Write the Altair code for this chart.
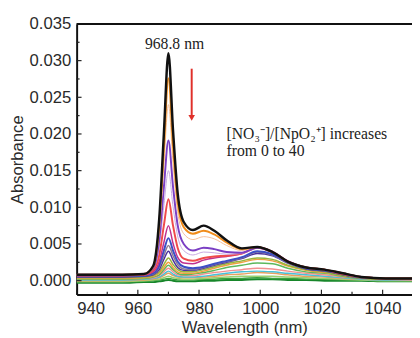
import altair as alt
import pandas as pd

# ---------------- data ----------------
wavelength = [940, 955, 962, 965, 967, 968.5, 970, 971.5, 973, 975, 978, 981.5, 985,
              989, 994, 999, 1004, 1009, 1015, 1021, 1027, 1033, 1041, 1050]

s_darkgreen = [-.0003, -.0003, -.0002, -.0002, -.0001, .0000, .0001, .0000, -.0001, -.0001, -.0001, .0000, .0000,
               .0001, .0001, .0002, .0002, .0001, .0001, .0000, .0000, .0000, -.0001, -.0001]
s_green2 = [-.0002, -.0002, -.0001, .0000, .0001, .0002, .0003, .0002, .0001, .0001, .0001, .0002, .0002,
            .0003, .0003, .0004, .0003, .0003, .0002, .0002, .0001, .0001, .0000, .0000]
s_lightgreen = [-.0001, -.0001, .0000, .0001, .0002, .0004, .0006, .0004, .0003, .0002, .0002, .0003, .0004,
                .0005, .0006, .0006, .0006, .0005, .0004, .0003, .0002, .0001, .0000, .0000]
s_orange3 = [.0000, .0000, .0001, .0002, .0004, .0007, .0010, .0007, .0005, .0004, .0004, .0005, .0006,
             .0008, .0009, .0011, .0010, .0008, .0006, .0005, .0003, .0002, .0001, .0001]
s_cyan = [.0001, .0001, .0002, .0003, .0005, .0009, .0013, .0009, .0006, .0005, .0005, .0006, .0008,
          .0010, .0012, .0013, .0012, .0010, .0008, .0006, .0004, .0002, .0001, .0001]
s_pink = [.0002, .0002, .0003, .0004, .0007, .0012, .0017, .0012, .0008, .0007, .0007, .0009, .0011,
          .0013, .0015, .0017, .0016, .0013, .0010, .0008, .0005, .0003, .0002, .0001]
s_green = [.0002, .0002, .0003, .0005, .0008, .0015, .0021, .0015, .0010, .0008, .0009, .0011, .0014,
           .0018, .0021, .0024, .0023, .0017, .0012, .0010, .0006, .0003, .0002, .0002]
s_orange2 = [.0003, .0003, .0004, .0006, .0010, .0018, .0025, .0018, .0012, .0010, .0010, .0013, .0017,
             .0021, .0025, .0029, .0027, .0020, .0014, .0011, .0007, .0004, .0002, .0002]
s_olive = [.0004, .0004, .0005, .0007, .0012, .0022, .0031, .0022, .0015, .0012, .0012, .0015, .0019,
           .0023, .0027, .0031, .0029, .0021, .0015, .0012, .0007, .0004, .0002, .0002]
s_indigo = [.0005, .0005, .0006, .0008, .0015, .0029, .0040, .0028, .0018, .0014, .0014, .0017, .0021,
            .0025, .0030, .0037, .0034, .0024, .0016, .0013, .0008, .0004, .0003, .0002]
s_gray = [.0006, .0006, .0007, .0009, .0018, .0034, .0048, .0034, .0022, .0016, .0015, .0018, .0022,
          .0026, .0031, .0039, .0035, .0024, .0017, .0014, .0009, .0004, .0003, .0003]
s_blue = [.0006, .0006, .0007, .0010, .0021, .0041, .0058, .0041, .0026, .0019, .0017, .0019, .0023,
          .0027, .0032, .0040, .0036, .0025, .0017, .0014, .0009, .0005, .0003, .0003]
s_magenta = [.0007, .0007, .0008, .0012, .0026, .0052, .0075, .0051, .0032, .0024, .0023, .0028, .0031,
             .0033, .0037, .0046, .0040, .0027, .0018, .0015, .0009, .0005, .0003, .0003]
s_red = [.0007, .0007, .0008, .0014, .0035, .0075, .0111, .0075, .0045, .0030, .0027, .0031, .0033,
         .0034, .0037, .0045, .0039, .0026, .0018, .0015, .0009, .0005, .0003, .0003]
s_lilac = [.0008, .0008, .0009, .0016, .0046, .0102, .0150, .0101, .0061, .0041, .0035, .0039, .0038,
           .0036, .0037, .0045, .0039, .0026, .0018, .0015, .0010, .0005, .0003, .0003]
s_purple = [.0008, .0008, .0009, .0017, .0056, .0127, .0191, .0128, .0076, .0050, .0041, .0045, .0043,
            .0039, .0038, .0045, .0039, .0026, .0018, .0015, .0010, .0005, .0003, .0003]
s_peach = [.0008, .0008, .0009, .0018, .0068, .0157, .0240, .0160, .0094, .0064, .0056, .0060, .0057,
           .0048, .0041, .0046, .0039, .0026, .0018, .0015, .0010, .0005, .0003, .0003]
s_orange = [.0008, .0008, .0009, .0019, .0077, .0180, .0276, .0184, .0108, .0073, .0064, .0068, .0063,
            .0052, .0043, .0046, .0039, .0026, .0018, .0015, .0010, .0005, .0003, .0003]
s_black = [.0008, .0008, .0009, .0020, .0085, .0200, .0310, .0205, .0120, .0080, .0069, .0075, .0068,
           .0055, .0044, .0046, .0039, .0026, .0018, .0015, .0010, .0005, .0003, .0003]

series_names = ["darkgreen", "green2", "lightgreen", "orange3", "cyan", "pink", "green", "orange2",
                "olive", "indigo", "gray", "blue", "magenta", "red", "lilac", "purple", "peach",
                "orange", "black"]
series_values = [s_darkgreen, s_green2, s_lightgreen, s_orange3, s_cyan, s_pink, s_green, s_orange2,
                 s_olive, s_indigo, s_gray, s_blue, s_magenta, s_red, s_lilac, s_purple, s_peach,
                 s_orange, s_black]
series_colors = ["#17862a", "#3aa040", "#9ad070", "#e8a060", "#48c0d8", "#f29090", "#5cb85c", "#f0a040",
                 "#98b43c", "#4a2f9c", "#8c7c94", "#3c4fc6", "#c0308f", "#ef4b4b", "#c8a8e0", "#7b3fc4",
                 "#f5c09a", "#f08c1a", "#111111"]
series_widths = [2, 1.5, 1.5, 1.5, 1.5, 1.5, 1.5, 1.5, 1.5, 1.5, 1.5, 2, 1.5, 2, 1, 2, 1, 2, 2.5]

x_major = [940, 960, 980, 1000, 1020, 1040]
x_minor = [950, 970, 990, 1010, 1030]
y_major = [0.0, 0.005, 0.010, 0.015, 0.020, 0.025, 0.030, 0.035]
y_minor = [0.0025, 0.0075, 0.0125, 0.0175, 0.0225, 0.0275, 0.0325]

notes_text = ["968.8 nm", "[NO\u2083\u207b]/[NpO\u2082\u207a] increases", "from 0 to 40"]
notes_x = [972.0, 989.0, 989.0]
notes_y = [0.0323, 0.0200, 0.0177]
notes_align = ["center", "left", "left"]

arrow_x = [977.6]
arrow_top = [0.0289]
arrow_tip = [0.0222]

# ---------------- build ----------------
rows = []
for name, vals, w in zip(series_names, series_values, series_widths):
    for wl, a in zip(wavelength, vals):
        rows.append({"series": name, "wl": wl, "A": a, "w": w})
df = pd.DataFrame(rows)

W, H = 342, 276
xs = alt.Scale(domain=[940, 1049.6], nice=False, zero=False)
ys = alt.Scale(domain=[-0.0019, 0.035], nice=False, zero=False)
x_axis = alt.Axis(values=x_major, title="Wavelength (nm)", ticks=False, grid=False,
                  labelPadding=6, titlePadding=4, format="d")
y_axis = alt.Axis(values=y_major, title="Absorbance", ticks=False, grid=False,
                  labelPadding=6, titlePadding=3, format=".3f")

lines = alt.Chart(df).mark_line(interpolate="monotone", clip=True).encode(
    x=alt.X("wl:Q", scale=xs, axis=x_axis),
    y=alt.Y("A:Q", scale=ys, axis=y_axis),
    color=alt.Color("series:N", scale=alt.Scale(domain=series_names, range=series_colors), legend=None),
    strokeWidth=alt.StrokeWidth("w:Q", scale=None),
)

xmaj = alt.Chart(pd.DataFrame({"wl": x_major})).mark_rule(color="#222", strokeWidth=1.2).encode(
    x=alt.X("wl:Q", scale=xs, axis=x_axis), y=alt.value(H), y2=alt.value(H - 5))
xmin = alt.Chart(pd.DataFrame({"wl": x_minor})).mark_rule(color="#222", strokeWidth=1.2).encode(
    x=alt.X("wl:Q", scale=xs, axis=x_axis), y=alt.value(H), y2=alt.value(H - 3))
ymaj = alt.Chart(pd.DataFrame({"A": y_major})).mark_rule(color="#222", strokeWidth=1.2).encode(
    y=alt.Y("A:Q", scale=ys, axis=y_axis), x=alt.value(0), x2=alt.value(5))
ymin = alt.Chart(pd.DataFrame({"A": y_minor})).mark_rule(color="#222", strokeWidth=1.2).encode(
    y=alt.Y("A:Q", scale=ys, axis=y_axis), x=alt.value(0), x2=alt.value(3))

top = alt.Chart(pd.DataFrame({"k": [0]})).mark_rule(color="#111", strokeWidth=2).encode(
    y=alt.value(0), x=alt.value(0), x2=alt.value(W))

notes = alt.Chart(pd.DataFrame({"wl": notes_x, "A": notes_y, "t": notes_text, "al": notes_align}))
note1 = notes.transform_filter("datum.al == 'center'").mark_text(
    font="Liberation Serif", fontSize=16, color="#222", align="center", baseline="middle").encode(
    x=alt.X("wl:Q", scale=xs, axis=x_axis), y=alt.Y("A:Q", scale=ys, axis=y_axis), text="t:N")
note2 = notes.transform_filter("datum.al == 'left'").mark_text(
    font="Liberation Serif", fontSize=16, color="#222", align="left", baseline="middle").encode(
    x=alt.X("wl:Q", scale=xs, axis=x_axis), y=alt.Y("A:Q", scale=ys, axis=y_axis), text="t:N")

adf = pd.DataFrame({"wl": arrow_x, "A": arrow_top, "A2": arrow_tip})
shaft = alt.Chart(adf).mark_rule(color="#e0302a", strokeWidth=2).encode(
    x=alt.X("wl:Q", scale=xs, axis=x_axis), y=alt.Y("A:Q", scale=ys, axis=y_axis), y2="A2:Q")
head = alt.Chart(adf).mark_point(shape="triangle-down", filled=True, color="#e0302a", size=45, opacity=1).encode(
    x=alt.X("wl:Q", scale=xs, axis=x_axis), y=alt.Y("A2:Q", scale=ys, axis=y_axis))

chart = alt.layer(lines, xmaj, xmin, ymaj, ymin, top, shaft, head, note1, note2).properties(
    width=W, height=H,
    autosize=alt.AutoSizeParams(type="none"),
    padding={"left": 70, "top": 13, "right": 0, "bottom": 41},
).configure_view(stroke=None).configure_axis(
    labelFont="Liberation Sans", labelFontSize=17, labelColor="#2a2a2a",
    titleFont="Liberation Sans", titleFontSize=17, titleFontWeight="normal", titleColor="#2a2a2a",
    domainColor="#111", domainWidth=2,
)

chart.save("out.html", embed_options={"renderer": "svg", "actions": False})
